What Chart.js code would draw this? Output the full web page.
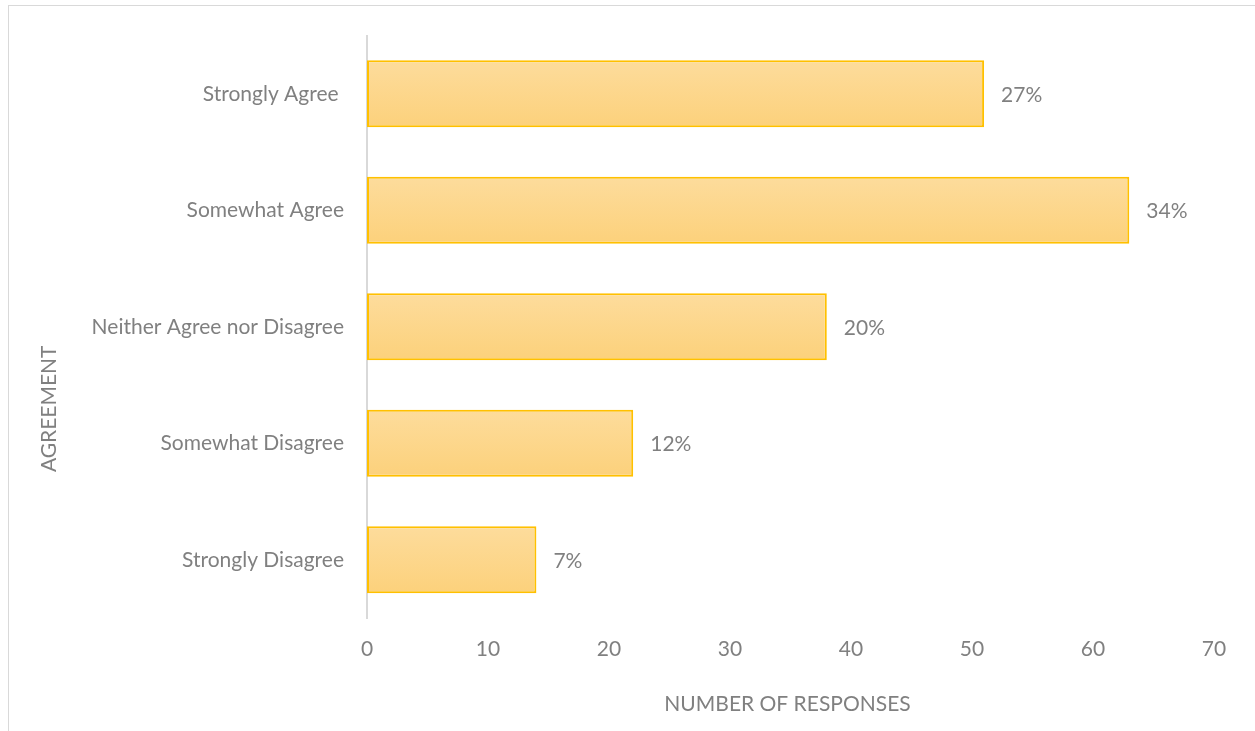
<!DOCTYPE html>
<html>
<head>
<meta charset="utf-8">
<script src="https://cdn.jsdelivr.net/npm/chart.js@4/dist/chart.umd.min.js"></script>
<style>
  html, body { margin: 0; padding: 0; background: #fff; overflow: hidden; }
  #wrap { position: relative; width: 1255px; height: 731px; }
  #frame { position: absolute; left: 8px; top: 5px; width: 1260px; height: 740px;
           border: 1px solid #d9d9d9; box-sizing: border-box; }
  #chart { position: absolute; left: 0; top: 0; }
</style>
</head>
<body>
<div id="wrap">
  <div id="frame"></div>
  <canvas id="chart" width="1255" height="731"></canvas>
</div>
<script>
  // Survey: how strongly respondents agree (counts), bar labels show share of total.
  var categories = [
    "Strongly Agree ",
    "Somewhat Agree",
    "Neither Agree nor Disagree",
    "Somewhat Disagree",
    "Strongly Disagree"
  ];
  var responses = [51, 63, 38, 22, 14];
  var xTicks = [0, 10, 20, 30, 40, 50, 60, 70];

  var TEXT = "#808080";
  var AXIS = "#d9d9d9";
  var GOLD = "#ffc000";
  var FONT = "Lato, 'Open Sans', sans-serif";
  var FONT_SIZE = 21;
  var BAR_PCT = 0.575;

  var total = responses.reduce(function (a, b) { return a + b; }, 0);

  // Each bar gets its own vertical gradient (lighter on top), built from the
  // category band the y scale gives it.
  function barFill(context) {
    var chart = context.chart;
    var y = chart.scales.y;
    if (!y || !chart.chartArea) return "#fdd88e";
    var band = y.height / categories.length;
    var mid = y.getPixelForValue(context.dataIndex);
    var half = band * BAR_PCT / 2;
    var g = chart.ctx.createLinearGradient(0, mid - half, 0, mid + half);
    g.addColorStop(0, "#fddc9c");
    g.addColorStop(1, "#fcd17b");
    return g;
  }

  // Percent labels to the right of each bar.
  var pctLabels = {
    id: "pctLabels",
    afterDatasetsDraw: function (chart) {
      var ctx = chart.ctx;
      ctx.save();
      ctx.font = FONT_SIZE + "px " + FONT;
      ctx.fillStyle = TEXT;
      ctx.textAlign = "left";
      ctx.textBaseline = "middle";
      chart.getDatasetMeta(0).data.forEach(function (bar, i) {
        var pct = Math.round(responses[i] / total * 100) + "%";
        ctx.fillText(pct, bar.x + 17, bar.y + 1);
      });
      ctx.restore();
    }
  };

  // Axis titles, placed the way the spreadsheet laid them out.
  var axisTitles = {
    id: "axisTitles",
    afterDraw: function (chart) {
      var ctx = chart.ctx;
      var area = chart.chartArea;
      ctx.save();
      ctx.font = FONT_SIZE + "px " + FONT;
      ctx.fillStyle = TEXT;
      ctx.textAlign = "center";
      ctx.textBaseline = "middle";
      ctx.fillText("NUMBER OF RESPONSES", (area.left + area.right) / 2 - 3, area.bottom + 86);
      ctx.translate(49, area.top + (area.bottom - area.top) / 2 + 82);
      ctx.rotate(-Math.PI / 2);
      ctx.fillText("AGREEMENT", 0, 0);
      ctx.restore();
    }
  };

  new Chart(document.getElementById("chart"), {
    type: "bar",
    data: {
      labels: categories,
      datasets: [{
        data: responses,
        backgroundColor: barFill,
        borderColor: GOLD,
        borderWidth: 2,
        borderSkipped: false,
        barPercentage: BAR_PCT,
        categoryPercentage: 1
      }]
    },
    options: {
      indexAxis: "y",
      responsive: false,
      animation: false,
      layout: { padding: { left: 0, right: 41, top: 35, bottom: 0 } },
      scales: {
        x: {
          min: 0,
          max: 70,
          afterBuildTicks: function (scale) {
            scale.ticks = xTicks.map(function (v) { return { value: v }; });
          },
          afterFit: function (scale) { scale.height = 113; },
          grid: { display: false, drawTicks: false },
          border: { display: false },
          ticks: { color: TEXT, font: { family: FONT, size: FONT_SIZE }, padding: 19, maxRotation: 0 }
        },
        y: {
          afterFit: function (scale) { scale.width = 367; },
          grid: { display: false, drawTicks: false },
          border: { display: true, color: AXIS, width: 2 },
          ticks: { color: TEXT, font: { family: FONT, size: FONT_SIZE }, padding: 23 }
        }
      },
      plugins: {
        legend: { display: false },
        tooltip: { enabled: false }
      }
    },
    plugins: [pctLabels, axisTitles]
  });
</script>
</body>
</html>
